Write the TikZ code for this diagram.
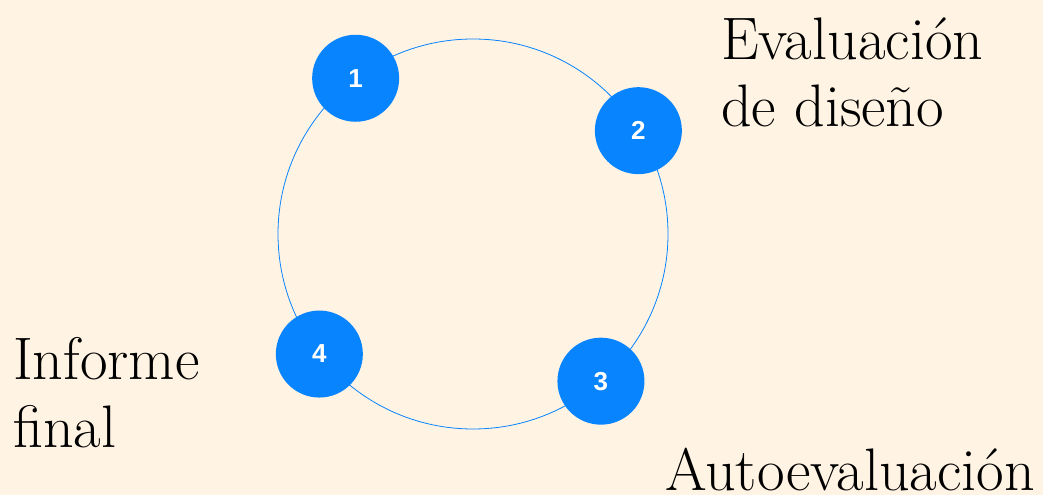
\documentclass[tikz,border=0pt]{standalone}
\usepackage{fontspec}
\newfontfamily\numfont{Liberation Sans}
\usetikzlibrary{calc}
\definecolor{paper}{RGB}{255,243,227}
\definecolor{dotblue}{RGB}{8,132,255}
\tikzset{
	numdot/.style={shape=circle,fill=dotblue,minimum size=87pt,inner sep=0pt,text=white,font=\numfont\bfseries\fontsize{26}{30}\selectfont},
	ring/.style={draw=dotblue,line width=0.8pt},
	label/.style={anchor=base west,inner sep=0pt,align=left,font=\fontsize{60}{67}\selectfont}
}

\begin{document}
\begin{tikzpicture}[x=1pt,y=1pt]
	\fill[paper] (0,0) rectangle (1043,495);
	\useasboundingbox (0,0) rectangle (1043,495);
	\coordinate (c) at (473,261);
	\draw[ring] (c) circle (195);
	\node[numdot] (d1) at ($(c)+(127:195)$) {1};
	\node[numdot] (d2) at ($(c)+(32:195)$) {2};
	\node[numdot] (d3) at ($(c)+(-49:195)$) {3};
	\node[numdot] (d4) at ($(c)+(218:195)$) {4};
	% base anchor sits on the last line
	\node[label] (design) at (721,368) {Evaluación\\de diseño};
	\node[label] (report) at (13,48) {Informe\\final};
	\node[label,text depth=0pt] (self) at (665,5) {Autoevaluación};
\end{tikzpicture}
\end{document}
